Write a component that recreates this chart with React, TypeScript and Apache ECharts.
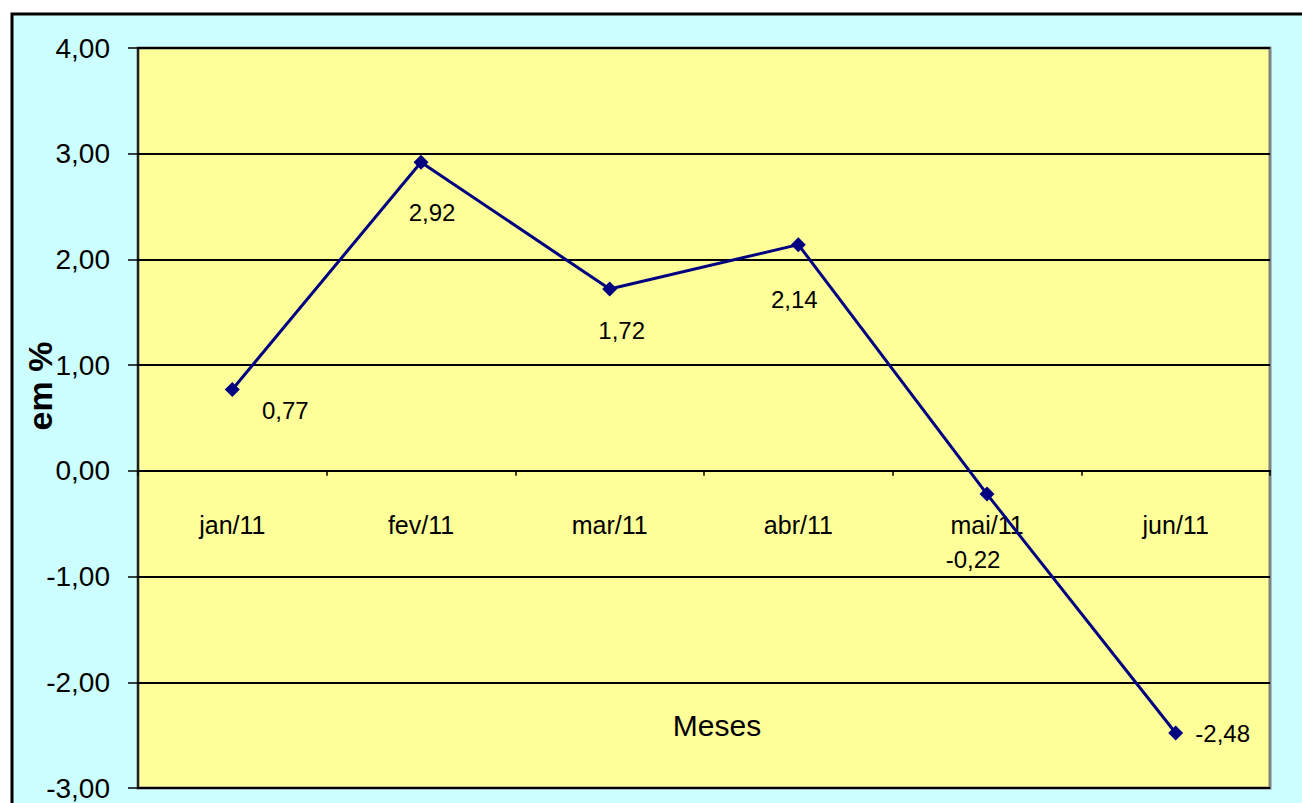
import React, { useEffect, useRef } from "react";
import * as echarts from "echarts";

const categories = ["jan/11", "fev/11", "mar/11", "abr/11", "mai/11", "jun/11"];
const values = [0.77, 2.92, 1.72, 2.14, -0.22, -2.48];
const yMin = -3;
const yMax = 4;
const yStep = 1;

const FONT = "'Liberation Sans', Arial, sans-serif";

const fmt = (v: number) => v.toFixed(2).replace(".", ",");

export default function App() {
  const ref = useRef<HTMLDivElement>(null);
  useEffect(() => {
    if (!ref.current) return;
    const chart = echarts.init(ref.current, undefined, { renderer: "svg" });
    const gridTop = 48;
    const gridBottomY = 788;
    // zero line position inside the grid, from the axis range
    const zeroOffset = ((0 - yMin) / (yMax - yMin)) * (gridBottomY - gridTop);
    // label placement per point (style only)
    const labelOffsets: [number, number][] = [
      [53, 21],
      [11, 50],
      [12, 41],
      [-4, 55],
      [-14, 65],
      [47, 0],
    ];
    chart.setOption({
      animation: false,
      backgroundColor: "#ffffff",
      graphic: [
        {
          type: "rect",
          z: -10,
          shape: { x: 12, y: 14, width: 1400, height: 900 },
          style: { fill: "#CCFFFF", stroke: "#000000", lineWidth: 3 },
        },
      ],
      grid: {
        left: 138,
        top: gridTop,
        right: 32,
        bottom: 803 - gridBottomY,
        containLabel: false,
        outerBoundsMode: "none",
        show: true,
        backgroundColor: "#FFFF99",
        borderColor: "#808080",
        borderWidth: 3,
      },
      xAxis: {
        type: "category",
        data: categories,
        boundaryGap: true,
        position: "bottom",
        offset: -zeroOffset,
        name: "Meses",
        nameLocation: "middle",
        nameGap: 240,
        nameMoveOverlap: false,
        nameTextStyle: { fontFamily: FONT, fontSize: 30, color: "#000", padding: [0, 0, 0, 26] },
        axisLine: { onZero: false, lineStyle: { color: "#000", width: 2 } },
        axisTick: { show: true, inside: false, length: 5, alignWithLabel: false, lineStyle: { color: "#000", width: 1.5 } },
        axisLabel: { fontFamily: FONT, fontSize: 25, color: "#000", margin: 42 },
        splitLine: { show: false },
      },
      yAxis: {
        type: "value",
        min: yMin,
        max: yMax,
        interval: yStep,
        name: "em %",
        nameLocation: "middle",
        nameRotate: 90,
        nameGap: 81,
        nameMoveOverlap: false,
        nameTextStyle: {
          fontFamily: FONT,
          fontSize: 34,
          fontWeight: "bold",
          color: "#000",
          padding: [0, 0, 0, 64],
        },
        axisLine: { show: true, lineStyle: { color: "#000", width: 1.5 } },
        axisTick: { show: true, length: 10, lineStyle: { color: "#000", width: 1.5 } },
        axisLabel: {
          fontFamily: FONT,
          fontSize: 28,
          color: "#000",
          margin: 28,
          formatter: (v: number) => fmt(v),
        },
        splitLine: { show: true, lineStyle: { color: "#000", width: 2 } },
      },
      series: [
        {
          type: "line",
          data: values.map((v, i) => ({
            value: v,
            label: { offset: labelOffsets[i] },
          })),
          symbol: "diamond",
          symbolSize: 15,
          lineStyle: { color: "#000080", width: 3 },
          itemStyle: { color: "#000080" },
          label: {
            show: true,
            position: "inside",
            fontFamily: FONT,
            fontSize: 24,
            color: "#000",
            formatter: (p: any) => fmt(p.value),
          },
        },
      ],
    });
    return () => chart.dispose();
  }, []);
  return (
    <div
      ref={ref}
      style={{ position: "absolute", left: 0, top: 0, width: 1302, height: 803, overflow: "hidden" }}
    />
  );
}
